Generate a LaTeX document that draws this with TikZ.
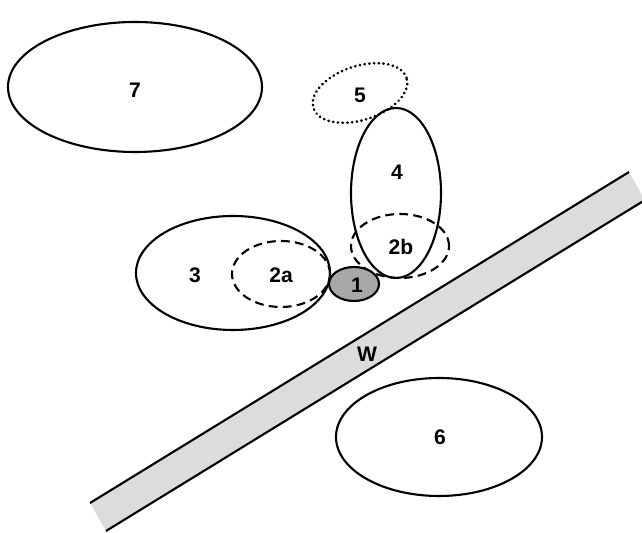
\documentclass[tikz,border=0pt]{standalone}
\usepackage{fontspec}
\setmainfont{Liberation Sans}
\usepackage{xcolor}
\usepackage{tikz}
\usetikzlibrary{positioning,calc}
\definecolor{wallGray}{HTML}{DCDCDC}
\definecolor{coreGray}{HTML}{A8A8A8}
\tikzset{
  zone/.style={draw=black, line width=1.2pt},
  zonedash/.style={zone, dash pattern=on 5pt off 3pt},
  zonedot/.style={zone, line width=1.6pt, line cap=round, dash pattern=on 0.1pt off 2.6pt},
  lbl/.style={font=\fontsize{12}{14}\selectfont\bfseries, inner sep=0pt}
}

\begin{document}
\begin{tikzpicture}[x=0.02cm, y=0.02cm]
  \useasboundingbox (0,0) rectangle (642,533);

  % Wall
  \fill[wallGray] (90,30) -- (629,361) -- (645,333) -- (106,2) -- cycle;
  \draw[line width=1.2pt] (90,30) -- (629,361);
  \draw[line width=1.2pt] (106,2) -- (645,333);
  \node[lbl] (labW) at (367,179) {W};

  % Zones
  \draw[zone] (135,446) ellipse [x radius=127, y radius=65];   % 7
  \draw[zonedot, rotate around={18:(360,440)}] (360,440) ellipse [x radius=49, y radius=27]; % 5
  \draw[zone] (396,340) ellipse [x radius=45, y radius=85];    % 4
  \draw[zonedash] (400,287) ellipse [x radius=49, y radius=32]; % 2b
  \draw[zone] (233,260) ellipse [x radius=97, y radius=57];    % 3
  \draw[zonedash] (281,259) ellipse [x radius=49, y radius=33]; % 2a
  \draw[zone, fill=coreGray] (354,249) ellipse [x radius=25, y radius=17]; % 1
  \draw[zone] (439,96) ellipse [x radius=103, y radius=59];    % 6

  % Labels
  \node[lbl] (lab7) at (135,443) {7};
  \node[lbl] (lab5) at (360,438) {5};
  \node[lbl] (lab4) at (397,361) {4};
  \node[lbl] (lab2b) at (401,286) {2b};
  \node[lbl] (lab3) at (195,258) {3};
  \node[lbl] (lab2a) at (281,258) {2a};
  \node[lbl] (lab1) at (357,248) {1};
  \node[lbl] (lab6) at (440,96) {6};
\end{tikzpicture}
\end{document}
